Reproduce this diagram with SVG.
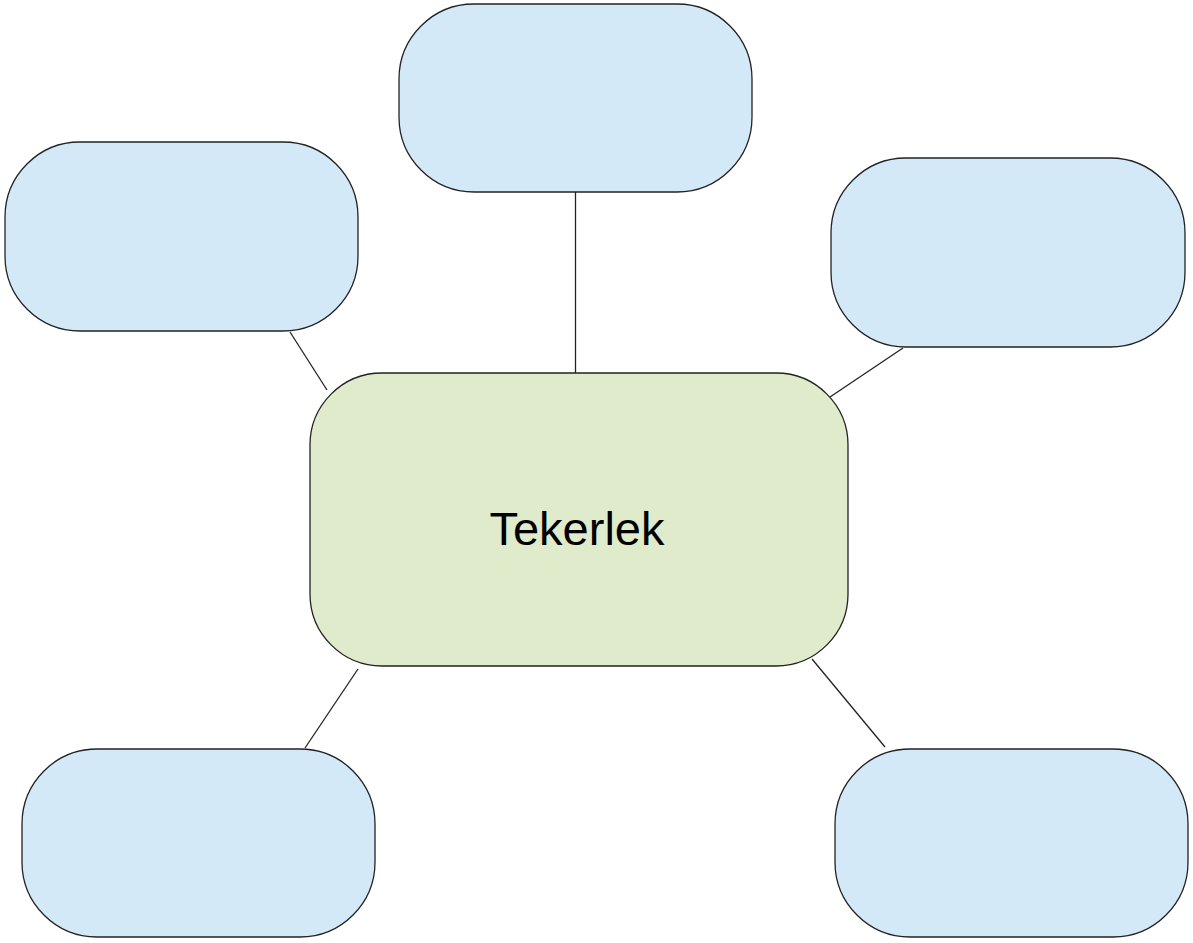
<svg xmlns="http://www.w3.org/2000/svg" width="1193" height="943" viewBox="0 0 1193 943">
<style>
.n{fill:#d4e9f8;stroke:#222;stroke-width:1.3}
.c{fill:#dfebca;stroke:#222;stroke-width:1.3}
.e{stroke:#222;stroke-width:1.3;fill:none}
.t{font-family:"Liberation Sans",Arial,sans-serif;font-size:47px;fill:#000}
</style>
<rect width="1193" height="943" fill="#fff"/>
<g id="connectors">
<line class="e" x1="575.5" y1="192" x2="575.5" y2="373"/>
<line class="e" x1="290" y1="332" x2="327" y2="390"/>
<line class="e" x1="903" y1="348" x2="830" y2="397"/>
<line class="e" x1="358" y1="669" x2="305" y2="748"/>
<line class="e" x1="812" y1="659" x2="885" y2="747"/>
</g>
<g id="top"><rect class="n" x="399" y="4" width="353" height="188" rx="75" ry="75"/></g>
<g id="left"><rect class="n" x="5" y="142" width="353" height="189" rx="75" ry="75"/></g>
<g id="right"><rect class="n" x="831" y="158" width="354" height="189" rx="75" ry="75"/></g>
<g id="bottom-left"><rect class="n" x="22" y="749" width="353" height="188" rx="75" ry="75"/></g>
<g id="bottom-right"><rect class="n" x="835" y="749" width="353" height="188" rx="75" ry="75"/></g>
<g id="center"><rect class="c" x="310" y="373" width="538" height="293" rx="72" ry="72"/>
<text class="t" x="577" y="545" text-anchor="middle">Tekerlek</text></g>
</svg>
